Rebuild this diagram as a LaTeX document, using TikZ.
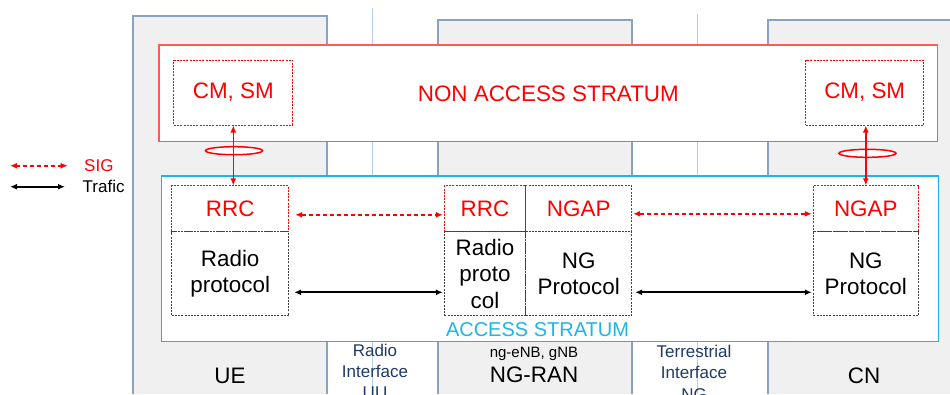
\documentclass[tikz,border=0pt]{standalone}
\usepackage{fontspec}
\setmainfont{Liberation Sans}
\usepackage{tikz}
\usetikzlibrary{arrows.meta,shapes.geometric}
\definecolor{sigred}{HTML}{FF0000}
\definecolor{nasred}{HTML}{FF5A5A}
\definecolor{ascyan}{HTML}{1DB4EC}
\definecolor{colgray}{HTML}{F0F0F0}
\definecolor{coledge}{HTML}{8AA2BE}
\definecolor{ifblue}{HTML}{B5CDE8}
\definecolor{iftext}{HTML}{1F3A68}
\newcommand{\bigtxt}{\fontsize{22.4}{26.5}\selectfont}
\newcommand{\midtxt}{\fontsize{20}{24}\selectfont}
\newcommand{\smalltxt}{\fontsize{17}{21.3}\selectfont}
\tikzset{%
  stratum/.style  = {shape=rectangle, draw, line width=1.4pt,%
                     fill=white, inner sep=0pt},%
  layer/.style    = {shape=rectangle, dash pattern=on 2pt off 1.2pt, line width=1pt,%
                     inner sep=0pt, align=center, font=\bigtxt},%
  sigbox/.style   = {layer, draw=sigred, text=sigred},%
  protobox/.style = {layer, draw=black!75, text=black},%
  column/.style   = {fill=colgray, draw=coledge, line width=1.5pt},%
  ifline/.style   = {draw=ifblue, line width=1.5pt},%
  label/.style    = {inner sep=0pt, align=center}%
}

\begin{document}
\begin{tikzpicture}[x=1pt,y=-1pt,>={Latex[length=7pt,width=6pt]},sigarrow/.style={<->,draw=sigred,line width=1.7pt,dash pattern=on 4pt off 3pt},trafic/.style={<->,draw=black,line width=1.7pt},ring/.style={ellipse,draw=sigred,line width=1.5pt,fill=white,inner sep=0pt,minimum width=57pt,minimum height=8pt}]
		\useasboundingbox (0,0) rectangle (950,394);
		\fill[white] (0,0) rectangle (950,394);
		\fill[colgray] (133,16) rectangle (327,394);
		\draw[column] (133,394) |- (327,16) -- (327,394);
		\fill[colgray] (438,20) rectangle (632,394);
		\draw[column] (438,394) |- (632,20) -- (632,394);
		\fill[colgray] (768,20) rectangle (950,394);
		\draw[column] (768,394) |- (951,20);
		\draw[ifline] (372.7,8) -- (372.7,394);
		\draw[ifline] (697.3,14) -- (697.3,394);
		\node[stratum, draw=nasred, text=sigred, font=\bigtxt, minimum width=778.7pt, minimum height=96.7pt] (nas) at (548.3,93.3) {NON ACCESS STRATUM};
		\node[stratum, draw=ascyan, minimum width=776.7pt, minimum height=165.7pt] (as) at (550,258.8) {};
		\node[label, text=ascyan, font=\midtxt] (aslabel) at (537.5,330) {ACCESS STRATUM};
		\node[sigbox, minimum width=118.7pt, minimum height=65pt] (cmsmue) at (233.3,92.5) {CM, SM};
		\node[sigbox, minimum width=118pt, minimum height=65pt] (cmsmcn) at (864.7,92.5) {CM, SM};
		\node[sigbox, minimum width=117pt, minimum height=45.7pt] (rrcue) at (230.2,208.8) {RRC};
		\node[sigbox, minimum width=81.4pt, minimum height=45.7pt] (rrcran) at (485,208.8) {RRC};
		\node[sigbox, minimum width=106pt, minimum height=45.7pt] (ngapran) at (578.7,208.8) {NGAP};
		\node[sigbox, minimum width=105pt, minimum height=45.7pt] (ngapcn) at (865.8,208.8) {NGAP};
		\node[protobox, minimum width=117pt, minimum height=84.3pt] (radioue) at (230.2,273.8) {Radio\\protocol};
		\node[protobox, minimum width=81.4pt, minimum height=84.3pt] (radioran) at (485,273.8) {Radio\\proto\\col};
		\node[protobox, minimum width=106pt, minimum height=84.3pt] (ngran) at (578.7,273.8) {NG\\Protocol};
		\node[protobox, minimum width=105pt, minimum height=84.3pt] (ngcn) at (865.8,273.8) {NG\\Protocol};
		\draw[sigarrow, shorten <=6pt, shorten >=1pt] ([yshift=-6pt]rrcue.east) -- ([yshift=-6pt]rrcran.west);
		\draw[sigarrow, shorten <=1pt, shorten >=1pt] ([yshift=-5pt]ngapran.east) -- ([yshift=-5pt]ngapcn.west);
		\draw[trafic, shorten <=5pt, shorten >=1pt] ([yshift=-18.5pt]radioue.east) -- ([yshift=-18.5pt]radioran.west);
		\draw[trafic, shorten <=3pt, shorten >=1pt] ([yshift=-18.5pt]ngran.east) -- ([yshift=-18.5pt]ngcn.west);
		\node[ring] (ringue) at (234,150.7) {};
		\node[ring] (ringcn) at (867.5,153.3) {};
		\draw[<->, draw=sigred, line width=1.6pt] (cmsmue.south) -- (rrcue.north -| cmsmue.south);
		\draw[<->, draw=sigred, line width=1.6pt] (cmsmcn.south -| ngapcn.north) -- (ngapcn.north);
		\node[label, anchor=west, text=sigred, font=\smalltxt] (sig) at (84,165.7) {SIG};
		\node[label, anchor=west, font=\smalltxt] (traf) at (82.5,186.7) {Trafic};
		\coordinate (sigleft) at (10,165.7);
		\coordinate (trafleft) at (10,186.7);
		\draw[sigarrow] (sigleft) -- (sigleft -| 67.7,0);
		\draw[trafic] (trafleft) -- (trafleft -| 65,0);
		\node[label, font=\bigtxt] (ue) at (230,376) {UE};
		\node[label, font=\bigtxt] (ngranlabel) at (534,375) {NG-RAN};
		\node[label, font=\fontsize{15}{18}\selectfont] (gnb) at (534,354) {ng-eNB, gNB};
		\node[label, font=\bigtxt] (cn) at (864,376) {CN};
		\node[label, anchor=north, text=iftext, font=\smalltxt] (uu) at (375,343.5) {Radio\\Interface\\UU};
		\node[label, anchor=north, text=iftext, font=\smalltxt] (ng) at (694,345) {Terrestrial\\Interface\\NG};
	\end{tikzpicture}
\end{document}
